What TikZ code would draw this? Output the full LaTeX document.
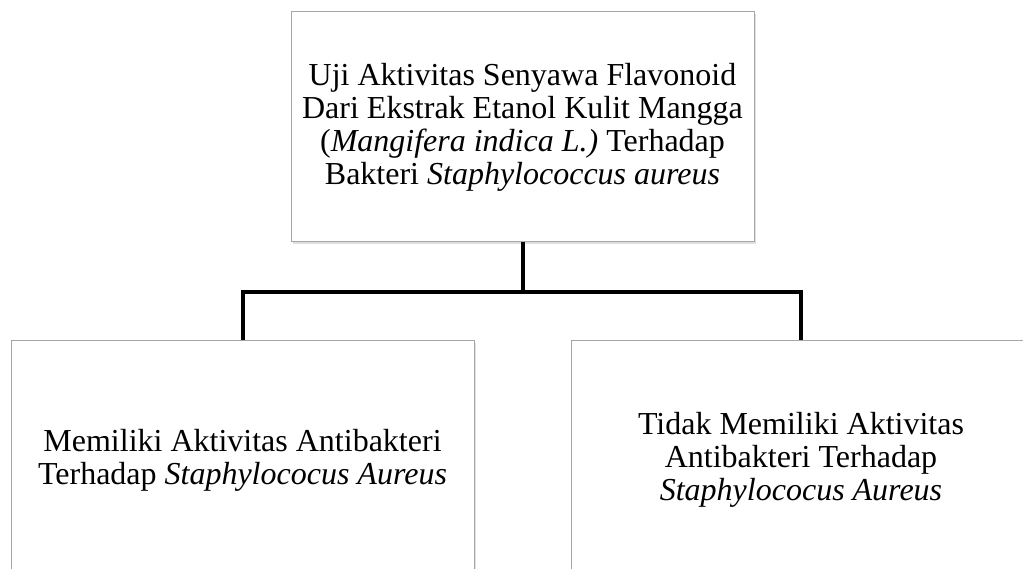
\documentclass[tikz,border=0pt]{standalone}
\usepackage{fontspec}
\setmainfont{Liberation Serif}
\usetikzlibrary{shadows}
\tikzset{every node/.append style={font=\fontsize{32}{33}\selectfont}}

\begin{document}
\begin{tikzpicture}[x=1pt, y=1pt,
    box/.style={draw=gray!70, line width=1pt, fill=white, align=center, inner sep=0pt,
        drop shadow={opacity=0.25, shadow xshift=1.5pt, shadow yshift=-2pt}},
    link/.style={line width=4pt, black}]
    \useasboundingbox (0,0) rectangle (1023,568);
    \node[box, minimum width=463pt, minimum height=230pt] (judul) at (522.5,441)
        {Uji Aktivitas Senyawa Flavonoid\\Dari Ekstrak Etanol Kulit Mangga\\(\textit{Mangifera indica L.)} Terhadap\\Bakteri \textit{Staphylococcus aureus}};
    \node[box, minimum width=463pt, minimum height=238pt] (ada) at (242.5,108)
        {Memiliki Aktivitas Antibakteri\\Terhadap \textit{Staphylococus Aureus}};
    \node[box, minimum width=460pt, minimum height=238pt] (tidak) at (801,108)
        {Tidak Memiliki Aktivitas\\Antibakteri Terhadap\\\textit{Staphylococus Aureus}};
    \coordinate (cabang) at (522.5,276);
    \draw[link] (judul.south) -- (cabang);
    \draw[link] (ada.north) |- (cabang) -| (tidak.north);
\end{tikzpicture}
\end{document}
